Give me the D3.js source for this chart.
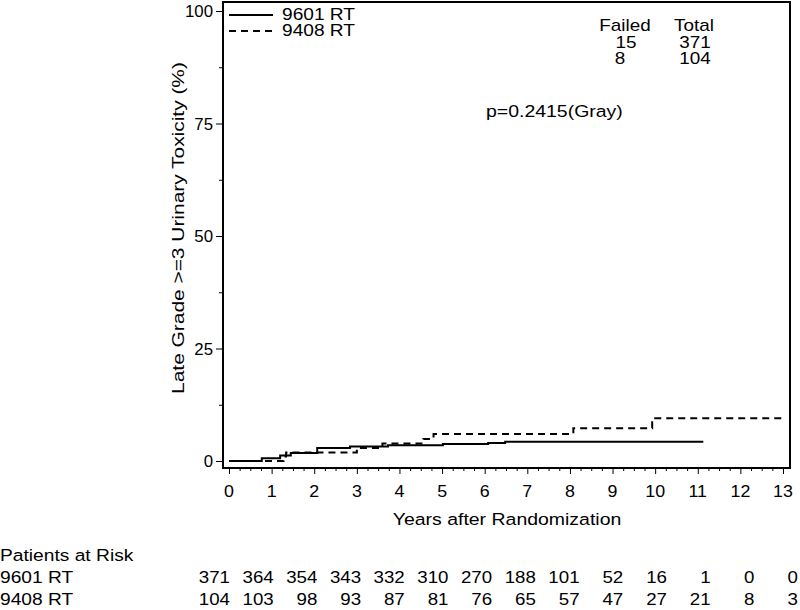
<!DOCTYPE html>
<html><head><meta charset="utf-8">
<script src="https://cdn.jsdelivr.net/npm/d3@7"></script>
<style>
body{margin:0;background:#fff;}
text{font-family:"Liberation Sans",Arial,Helvetica,sans-serif;fill:#000;}
</style></head>
<body>
<svg id="chart" width="800" height="610"></svg>
<script>
// ---- data ----
const xTickYears = [0,1,2,3,4,5,6,7,8,9,10,11,12,13];
const yTickValues = [0,25,50,75,100];
const seriesNames = ["9601 RT","9408 RT"];
const times9601 = [0,0.77,1.2,1.45,2.07,2.84,3.73,5.02,6.08,6.48,11.13];
const cum9601   = [0,0.6,1.2,1.8,2.9,3.2,3.5,3.8,4.0,4.3,4.3];
const times9408 = [0,1.28,1.34,3.0,3.6,4.56,4.8,8.08,9.93,13.05];
const cum9408   = [0,1.0,1.9,2.9,3.9,4.9,6.0,7.3,9.5,9.5];
const failed = [15,8];
const total = [371,104];
const pText = "p=0.2415(Gray)";
const risk9601 = [371,364,354,343,332,310,270,188,101,52,16,1,0,0];
const risk9408 = [104,103,98,93,87,81,76,65,57,47,27,21,8,3];

// ---- layout ----
const svg = d3.select("#chart");
const frame = {left:223,right:790,top:2,bottom:468};
const x = d3.scaleLinear().domain([0,13]).range([229,783]);
const y = d3.scaleLinear().domain([0,100]).range([461,11]);
const SX = 1.18;

function txt(str, px, py, o={}) {
  const t = svg.append("text")
    .attr("transform", `translate(${px},${py}) rotate(${o.rot||0}) scale(${o.sx||SX},1)`)
    .attr("text-anchor", o.anchor||"start")
    .style("font-size", (o.fs||16)+"px")
    .text(str);
  return t;
}

// frame
svg.append("rect").attr("x",frame.left).attr("y",frame.top)
  .attr("width",frame.right-frame.left).attr("height",frame.bottom-frame.top)
  .attr("fill","none").attr("stroke","#000").attr("stroke-width",2);

// x axis ticks
const xMinor = d3.range(0,13.001,0.25).filter(v=>Math.abs(v-Math.round(v))>1e-6);
const xAxisMajor = d3.axisBottom(x).tickValues(xTickYears).tickSize(6).tickFormat("");
const xAxisMinor = d3.axisBottom(x).tickValues(xMinor).tickSize(3).tickFormat("");
[xAxisMajor,xAxisMinor].forEach(ax=>{
  const g = svg.append("g").attr("transform",`translate(0,${frame.bottom})`).call(ax);
  g.select(".domain").remove();
  g.selectAll("line").attr("stroke","#000").attr("stroke-width",1);
});
xTickYears.forEach(v=>txt(String(v), x(v), 497, {anchor:"middle", fs:16.5, sx:1.08}));

// y axis ticks
const yMinor = d3.range(12.5,100,25);
const yAxisMajor = d3.axisLeft(y).tickValues(yTickValues).tickSize(7).tickFormat("");
const yAxisMinor = d3.axisLeft(y).tickValues(yMinor).tickSize(4).tickFormat("");
[yAxisMajor,yAxisMinor].forEach(ax=>{
  const g = svg.append("g").attr("transform",`translate(${frame.left},0)`).call(ax);
  g.select(".domain").remove();
  g.selectAll("line").attr("stroke","#000").attr("stroke-width",1);
});
yTickValues.forEach(v=>txt(String(v), 213, y(v)+6, {anchor:"end", fs:16.5, sx:1.02}));

// axis titles
txt("Years after Randomization", 507, 525, {anchor:"middle", fs:16.5});
txt("Late Grade >=3 Urinary Toxicity (%)", 184, 228, {anchor:"middle", rot:-90, fs:17, sx:1.23});

// curves
const line = d3.line().x(d=>x(d[0])).y(d=>y(d[1])).curve(d3.curveStepAfter);
const d9601 = times9601.map((t,i)=>[t,cum9601[i]]);
const d9408 = times9408.map((t,i)=>[t,cum9408[i]]);
svg.append("path").attr("d",line(d9408)).attr("fill","none").attr("stroke","#000")
  .attr("stroke-width",2).attr("stroke-dasharray","7,5");
svg.append("path").attr("d",line(d9601)).attr("fill","none").attr("stroke","#000")
  .attr("stroke-width",2);

// legend
const legY = [15,31];
seriesNames.forEach((n,i)=>{
  svg.append("line").attr("x1",229).attr("x2",273).attr("y1",legY[i]).attr("y2",legY[i])
    .attr("stroke","#000").attr("stroke-width",2)
    .attr("stroke-dasharray", i===1 ? "7,5" : null);
  txt(n, 282, legY[i]+5, {fs:16.5, sx:1.16});
});

// failed / total table
txt("Failed", 625, 31, {anchor:"middle"});
txt("Total", 694, 31, {anchor:"middle"});
const rowY = [48,64];
failed.forEach((f,i)=>txt(String(f), i===0?626:620, rowY[i], {anchor:"middle"}));
total.forEach((t,i)=>txt(String(t), 695, rowY[i], {anchor:"middle"}));
txt(pText, 486, 117, {fs:16.5, sx:1.18});

// patients at risk
const rx = d3.scaleLinear().domain([0,13]).range([230,798]);
txt("Patients at Risk", 0, 561, {fs:17, sx:1.13});
const riskRows = [risk9601, risk9408];
const riskY = [583,605];
seriesNames.forEach((n,i)=>{
  txt(n, 0, riskY[i], {fs:17, sx:1.13});
  riskRows[i].forEach((v,j)=>txt(String(v), rx(xTickYears[j]), riskY[i], {anchor:"end", fs:17, sx:1.1}));
});
</script>
</body></html>
